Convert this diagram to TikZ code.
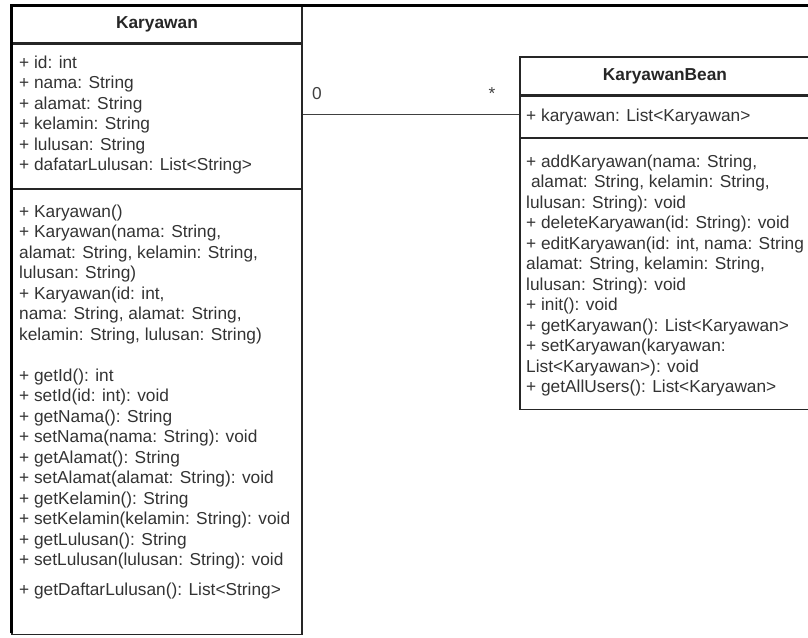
\documentclass[tikz,border=0pt]{standalone}
\usepackage{fontspec}
\setmainfont{Liberation Sans}
\usetikzlibrary{positioning}

\tikzset{
	compart/.style={draw=black!85, line width=1.2pt, minimum width=290pt, inner sep=0pt},
	classname/.style={compart, font=\fontsize{17.3}{20.5}\selectfont\bfseries, text=black!85},
	members/.style={anchor=north west, align=left, inner sep=0pt, text=black!80, font=\fontsize{17.3}{20.5}\selectfont},
	multlabel/.style={anchor=base, inner sep=0pt, text=black!75, font=\fontsize{17.3}{20.5}\selectfont},
	assocline/.style={draw=black!75, line width=1.3pt}
}

\begin{document}
\begin{tikzpicture}[x=1pt, y=-1pt]
	\useasboundingbox (0,0) rectangle (808,637);

	% class Karyawan
	\node[classname, minimum height=38pt] (ktitle) at (157,24) {Karyawan};
	\node[compart, minimum height=144pt, below=0pt of ktitle] (kattr) {};
	\node[compart, minimum height=445pt, below=0pt of kattr] (kmeth) {};

	\node[members] (kattrtext) at (19,53.6) {\strut+ id: int\\+ nama: String\\+ alamat: String\\+ kelamin: String\\+ lulusan: String\\+ dafatarLulusan: List<String>};
	\node[members] (kctor) at (19,202.6) {\strut+ Karyawan()\\+ Karyawan(nama: String,\\alamat: String, kelamin: String,\\lulusan: String)\\+ Karyawan(id: int,\\nama: String, alamat: String,\\kelamin: String, lulusan: String)};
	\node[members] (kget) at (19,366.6) {\strut+ getId(): int\\+ setId(id: int): void\\+ getNama(): String\\+ setNama(nama: String): void\\+ getAlamat(): String\\+ setAlamat(alamat: String): void\\+ getKelamin(): String\\+ setKelamin(kelamin: String): void\\+ getLulusan(): String\\+ setLulusan(lulusan: String): void};
	\node[members] (kdaftar) at (19,580.6) {\strut+ getDaftarLulusan(): List<String>};

	% class KaryawanBean
	\node[classname, minimum height=38pt] (btitle) at (665,76) {KaryawanBean};
	\node[compart, minimum height=41pt, below=0pt of btitle] (battr) {};
	\node[compart, minimum height=271pt, below=0pt of battr] (bmeth) {};

	\node[members] (battrtext) at (526,106.6) {\strut+ karyawan: List<Karyawan>};
	\node[members] (bmethtext) at (526,152.6) {\strut+ addKaryawan(nama: String,\\\ alamat: String, kelamin: String,\\lulusan: String): void\\+ deleteKaryawan(id: String): void\\+ editKaryawan(id: int, nama: String\\alamat: String, kelamin: String,\\lulusan: String): void\\+ init(): void\\+ getKaryawan(): List<Karyawan>\\+ setKaryawan(karyawan:\\List<Karyawan>): void\\+ getAllUsers(): List<Karyawan>};

	% frame
	\draw[line width=3pt] (11.5,633) -- (11.5,5) -- (810,5);

	% association
	\coordinate (assoc) at ([yshift=2.5pt]battr.west);
	\draw[assocline] (assoc -| kattr.east) -- (assoc);
	\node[multlabel] (kmult) at (317,99.5) {0};
	\node[multlabel] (bmult) at (492,99.5) {*};
\end{tikzpicture}
\end{document}
